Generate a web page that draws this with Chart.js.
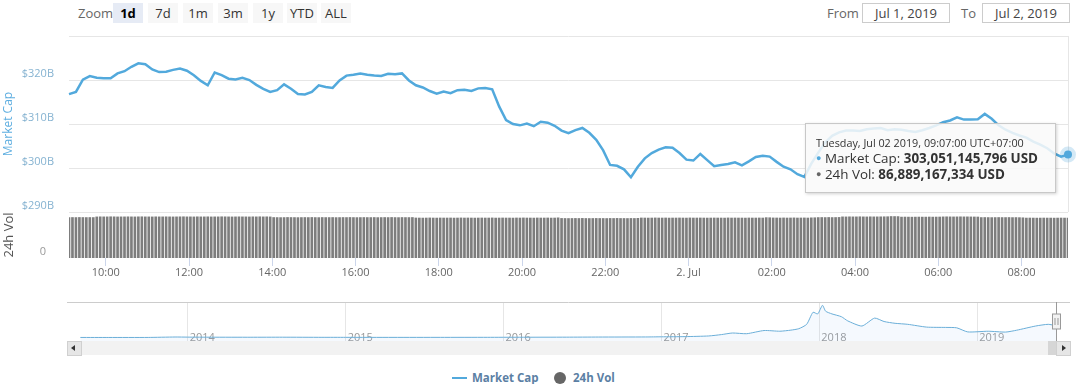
<!DOCTYPE html>
<html>
<head>
<meta charset="utf-8">
<script src="https://cdn.jsdelivr.net/npm/chart.js@4.4.1/dist/chart.umd.min.js"></script>
<style>
  body { margin: 0; background: #fff; font-family: "Open Sans", sans-serif; }
  #wrap { position: relative; width: 1080px; height: 384px; overflow: hidden; background: #fff; }
  #main { position: absolute; left: 0; top: 0; width: 1080px; height: 290px; }
  #nav { position: absolute; left: 0; top: 296px; width: 1080px; height: 60px; }
  .lbl { position: absolute; font-size: 13px; color: #666; line-height: 20px; top: 3px; }
  .btn { position: absolute; top: 3px; width: 30px; height: 20px; line-height: 20px; text-align: center;
         background: #f7f7f7; font-size: 13px; color: #333; }
  .btn.on { background: #e6ebf5; font-weight: bold; color: #000; }
  .inp { position: absolute; top: 3px; width: 86px; height: 18px; line-height: 18px; border: 1px solid #ccc;
         text-align: center; font-size: 13px; color: #444; }
  #tip { position: absolute; display: none; background: rgba(249,249,249,0.86); border: 1px solid #c8c8c8;
         box-shadow: 1px 1px 3px rgba(0,0,0,0.18); padding: 11px 10px 10px 10px; width: 229px;
         color: #333; white-space: nowrap; pointer-events: none; }
  #tip .d { font-size: 10.8px; line-height: 15px; }
  #tip .r { font-size: 13.4px; line-height: 15px; }
  #tip .b { font-size: 9px; vertical-align: 2px; }
  .sb { position: absolute; top: 341px; height: 14px; }
  .leg { position: absolute; top: 369px; font-size: 11.5px; font-weight: bold; color: #5b80a4; line-height: 18px; }
</style>
</head>
<body>
<div id="wrap">
  <div class="lbl" style="left:78px">Zoom</div>
  <div class="btn on" style="left:113px">1d</div>
  <div class="btn" style="left:148px">7d</div>
  <div class="btn" style="left:183px">1m</div>
  <div class="btn" style="left:218px">3m</div>
  <div class="btn" style="left:253px">1y</div>
  <div class="btn" style="left:287px">YTD</div>
  <div class="btn" style="left:321px">ALL</div>
  <div class="lbl" style="left:827px">From</div>
  <div class="inp" style="left:862px">Jul 1, 2019</div>
  <div class="lbl" style="left:961px">To</div>
  <div class="inp" style="left:982px">Jul 2, 2019</div>

  <div id="main"><canvas id="chart"></canvas></div>
  <div id="nav"><canvas id="navChart"></canvas></div>

  <div class="sb" style="left:67px;width:1003px;background:#f2f2f2"></div>
  <div class="sb" style="left:67px;width:13px;height:13px;background:#e6e6e6;border:1px solid #d0d0d0"></div>
  <div style="position:absolute;left:71px;top:345px;width:0;height:0;border-top:3px solid transparent;border-bottom:3px solid transparent;border-right:4px solid #333"></div>
  <div class="sb" style="left:1048px;width:8px;background:#d6d6d6"></div>
  <div class="sb" style="left:1056px;width:13px;height:13px;background:#e6e6e6;border:1px solid #d0d0d0"></div>
  <div style="position:absolute;left:1062px;top:345px;width:0;height:0;border-top:3px solid transparent;border-bottom:3px solid transparent;border-left:4px solid #333"></div>

  <div style="position:absolute;left:452px;top:377px;width:15px;height:2px;background:#52a9dc"></div>
  <div class="leg" style="left:472px">Market Cap</div>
  <div style="position:absolute;left:554px;top:372px;width:12px;height:12px;border-radius:6px;background:#666"></div>
  <div class="leg" style="left:573px">24h Vol</div>

  <div id="tip"></div>
</div>

<script>
// market cap, billions USD, one value every 10 minutes from Jul 1 2019 09:07 (UTC+7)
const mcapValues = [
  316.8, 317.3, 320.1, 320.9, 320.5, 320.4, 320.4, 321.5, 322.0, 323.0,
  323.8, 323.6, 322.4, 321.8, 321.9, 322.3, 322.6, 322.1, 321.1, 319.8,
  318.8, 321.7, 321.1, 320.3, 320.1, 320.5, 320.0, 318.9, 318.0, 317.3,
  317.7, 319.0, 318.0, 316.8, 316.7, 317.3, 318.8, 318.4, 318.2, 319.9,
  321.0, 321.2, 321.5, 321.2, 321.0, 320.9, 321.4, 321.3, 321.5, 319.9,
  318.8, 318.3, 317.5, 316.9, 317.4, 317.0, 317.7, 317.8, 317.5, 318.1,
  318.2, 317.9, 314.0, 310.9, 310.0, 309.7, 310.1, 309.5, 310.5, 310.3,
  309.6, 308.5, 307.9, 308.6, 309.1, 308.0, 306.4, 304.0, 300.7, 300.5,
  299.7, 297.9, 300.3, 302.2, 303.4, 304.2, 304.7, 304.6, 303.4, 301.9,
  301.7, 303.2, 301.8, 300.4, 300.7, 300.9, 301.3, 300.6, 301.5, 302.5,
  302.8, 302.6, 301.4, 300.3, 299.7, 298.6, 298.0, 301.0, 303.5, 305.8,
  307.3, 308.1, 308.5, 308.5, 308.4, 308.8, 309.0, 309.1, 308.6, 308.8,
  308.7, 308.4, 308.2, 308.6, 309.1, 309.7, 310.4, 310.8, 311.5, 311.0,
  311.0, 311.1, 312.3, 311.2, 309.7, 308.7, 308.0, 307.4, 306.9, 306.0,
  305.3, 304.5, 303.3, 302.6, 303.051145796
];
const mcapStep = 10;

// 24h volume, billions USD, one bar every 5 minutes
const volValues = [
  88.0, 88.1, 88.0, 88.2, 88.1, 88.0, 88.1, 88.0,
  89.4, 89.6, 89.5, 89.5, 89.7, 89.6, 89.4, 89.5, 89.5, 89.6,
  89.5, 89.4, 89.6, 89.7, 89.5, 89.5, 89.4, 89.6, 89.5, 89.5,
  89.6, 89.5, 89.4, 89.5, 89.6, 89.7, 89.5, 89.5, 89.4, 89.6,
  89.5, 89.5, 89.6, 89.4, 89.5, 89.5, 89.7, 89.6, 89.5, 89.4,
  89.5, 89.6, 89.5, 89.5, 89.4, 89.6, 89.5, 89.7, 89.5, 89.6, 89.4,
  88.1, 88.0, 87.9, 88.0, 88.2, 88.1, 88.0, 87.9, 88.0, 88.1,
  88.0, 88.2, 88.0, 87.9, 88.1, 88.0, 88.0, 88.1, 87.9, 88.0,
  88.1, 88.0, 88.2, 88.0, 87.9, 88.0, 88.1, 88.0, 88.0, 88.1,
  87.9, 88.0, 88.1, 88.0, 88.2, 88.0, 87.9, 88.1, 88.0, 88.0, 88.1,
  87.1, 87.0, 86.9, 87.0, 87.2, 87.0, 86.9, 87.1, 87.0, 87.0,
  87.1, 86.9, 87.0, 87.2, 87.0, 87.1, 87.0, 86.9, 87.0, 87.1,
  87.0, 87.0, 87.2, 86.9, 87.0, 87.1, 87.0, 87.0, 86.9, 87.1,
  87.0, 87.2, 87.0, 87.0, 86.9, 87.1, 87.0, 87.0, 87.1, 86.9, 87.0, 87.4,
  86.1, 86.0, 85.9, 86.0, 86.1, 86.0, 86.2, 86.0, 85.9, 86.0,
  86.1, 86.0, 86.0, 85.9, 86.1, 86.0, 86.2, 86.0, 86.0, 85.9, 86.1, 86.0, 86.3,
  87.1, 87.0, 86.9, 87.0, 87.2, 87.0, 87.0, 87.1, 86.9, 87.0,
  87.0, 87.1, 87.0, 86.9, 87.2, 87.0, 87.0, 87.1, 87.0, 86.9,
  87.0, 87.1, 87.0, 87.0, 86.9, 87.2, 87.0, 87.1, 87.0, 87.0,
  86.9, 87.1, 87.0, 87.0, 87.1, 87.0,
  87.8, 87.6, 87.2, 87.1, 87.0, 87.2, 87.0, 87.1, 87.3, 87.0, 87.1, 87.2, 87.0, 87.4, 87.6,
  88.0, 88.1, 88.0, 88.2, 88.0, 88.1, 88.3,
  89.5, 89.4, 89.6, 89.5, 89.5, 89.7, 89.5, 89.4, 89.6, 89.5, 89.5, 89.6, 89.7, 89.8,
  90.3, 90.2, 90.1,
  89.0, 89.1, 89.0, 88.9, 89.0, 89.1, 89.0, 89.0, 89.2, 89.0, 89.1, 89.2,
  89.5, 89.6, 89.5, 89.4, 89.5, 89.6, 89.5, 89.5, 89.4, 89.3, 89.2,
  88.0, 88.1, 88.0, 87.9, 88.0, 88.1, 88.0, 88.0, 88.1, 87.9, 88.0, 87.8, 87.5,
  86.9, 87.0, 86.9, 86.8, 86.9, 87.0, 86.9, 86.9, 86.8, 86.9, 87.0, 86.9, 86.889167334
];
const volStep = 5;

// x axis ticks, minutes after 09:07
const tickMinutes = [53, 173, 293, 413, 533, 653, 773, 893, 1013, 1133, 1253, 1373];
const tickLabels = ['10:00', '12:00', '14:00', '16:00', '18:00', '20:00', '22:00', '2. Jul', '02:00', '04:00', '06:00', '08:00'];
const capTicks = [290, 300, 310, 320, 330];

// navigator: total market cap since 2013 (billions)
const navYears = [2013.32, 2013.5, 2013.75, 2013.92, 2014.0, 2014.15, 2014.4, 2014.6, 2014.85, 2015.0,
  2015.3, 2015.6, 2015.9, 2016.1, 2016.4, 2016.6, 2016.9, 2017.0, 2017.15, 2017.3,
  2017.38, 2017.45, 2017.54, 2017.65, 2017.75, 2017.82, 2017.87, 2017.92, 2017.96, 2017.99,
  2018.02, 2018.04, 2018.08, 2018.14, 2018.18, 2018.27, 2018.35, 2018.41, 2018.48, 2018.56,
  2018.68, 2018.8, 2018.87, 2018.94, 2019.07, 2019.18, 2019.25, 2019.37, 2019.45, 2019.5];
const navCaps = [1.5, 1.2, 2, 13, 10, 8, 7, 8, 5, 4.5,
  3.5, 4, 5, 7, 9, 12, 14, 18, 23, 40,
  75, 116, 98, 180, 162, 190, 227, 340, 650, 608,
  830, 678, 608, 536, 428, 296, 500, 412, 366, 340,
  268, 260, 250, 144, 162, 140, 188, 296, 340, 303];
const navYearTicks = [2014, 2015, 2016, 2017, 2018, 2019];
const navSelection = 2019.497;

Chart.defaults.font.family = '"Open Sans", sans-serif';
Chart.defaults.animation = false;

const days = ['Sunday', 'Monday', 'Tuesday', 'Wednesday', 'Thursday', 'Friday', 'Saturday'];
const months = ['Jan', 'Feb', 'Mar', 'Apr', 'May', 'Jun', 'Jul', 'Aug', 'Sep', 'Oct', 'Nov', 'Dec'];
const start = Date.UTC(2019, 6, 1, 9, 7);
const pad = n => String(n).padStart(2, '0');

function fmtDate(min) {
  const d = new Date(start + min * 60000);
  return days[d.getUTCDay()] + ', ' + months[d.getUTCMonth()] + ' ' + pad(d.getUTCDate()) + ' ' + d.getUTCFullYear() +
    ', ' + pad(d.getUTCHours()) + ':' + pad(d.getUTCMinutes()) + ':00 UTC+07:00';
}
const fmtUsd = b => Math.round(b * 1e9).toLocaleString('en-US') + ' USD';

function externalTip(context) {
  const tip = document.getElementById('tip');
  const t = context.tooltip;
  if (t.opacity === 0 || !t.dataPoints || !t.dataPoints.length) { tip.style.display = 'none'; return; }
  const cap = t.dataPoints.find(p => p.datasetIndex === 0);
  const vol = t.dataPoints.find(p => p.datasetIndex === 1);
  tip.innerHTML =
    '<div class="d">' + fmtDate(cap.parsed.x) + '</div>' +
    '<div class="r"><span class="b" style="color:#52a9dc">\u25CF</span> Market Cap: <b>' + fmtUsd(cap.parsed.y) + '</b></div>' +
    '<div class="r"><span class="b" style="color:#666">\u25CF</span> 24h Vol: <b>' + fmtUsd(vol.parsed.y) + '</b></div>';
  tip.style.display = 'block';
  tip.style.left = (cap.element.x - 263) + 'px';
  tip.style.top = (cap.element.y - 32) + 'px';
}

const rightEdge = {
  id: 'rightEdge',
  beforeDatasetsDraw(chart) {
    const {ctx, chartArea} = chart;
    const y = chart.scales.y;
    const x = Math.round(chartArea.right) + 0.5;
    ctx.save();
    ctx.strokeStyle = '#e6e6e6';
    ctx.lineWidth = 1;
    ctx.beginPath();
    ctx.moveTo(x, y.top);
    ctx.lineTo(x, y.bottom);
    ctx.stroke();
    ctx.restore();
  }
};

const chart = new Chart('chart', {
  type: 'line',
  data: {
    datasets: [{
      label: 'Market Cap',
      data: mcapValues.map((v, i) => ({x: i * mcapStep, y: v})),
      yAxisID: 'y',
      borderColor: '#52a9dc',
      borderWidth: 2.5,
      pointRadius: 0,
      pointHoverRadius: 4,
      pointHoverBackgroundColor: '#52a9dc',
      pointHoverBorderColor: 'rgba(82,169,220,0.25)',
      pointHoverBorderWidth: 8,
      tension: 0,
      clip: false,
      order: 0
    }, {
      type: 'bar',
      label: '24h Vol',
      data: volValues.map((v, i) => ({x: i * volStep, y: v})),
      yAxisID: 'yVol',
      backgroundColor: '#7d7d7d',
      hoverBackgroundColor: '#7d7d7d',
      barThickness: 2,
      order: 1
    }]
  },
  options: {
    responsive: true,
    maintainAspectRatio: false,
    layout: {padding: {top: 36, right: 12, left: 0, bottom: 0}},
    interaction: {mode: 'index', intersect: false},
    plugins: {
      legend: {display: false},
      tooltip: {enabled: false, external: externalTip}
    },
    scales: {
      x: {
        type: 'linear',
        offset: false,
        min: 0,
        max: 1440,
        afterBuildTicks: s => { s.ticks = tickMinutes.map(v => ({value: v})); },
        afterFit: s => { s.height = 32; },
        ticks: {
          autoSkip: false, maxRotation: 0, padding: 0, color: '#666', font: {size: 11},
          callback: (v, i) => tickLabels[i]
        },
        grid: {offset: false, drawOnChartArea: false, drawTicks: true, tickLength: 8, color: '#ccd6eb'},
        border: {display: false}
      },
      y: {
        position: 'left',
        stack: 'panels',
        stackWeight: 3.83,
        weight: 2,
        min: 290,
        max: 330,
        afterBuildTicks: s => { s.ticks = capTicks.map(v => ({value: v})); },
        afterFit: s => { s.width = 69; },
        ticks: {
          padding: 15, labelOffset: -6, color: '#86b3d1', font: {size: 11},
          callback: v => v === 330 ? '' : '$' + v + 'B'
        },
        grid: {color: '#e6e6e6', drawTicks: false},
        border: {display: false},
        title: {display: true, text: 'Market Cap', color: '#5eaee0', font: {size: 12}, padding: {top: 1, bottom: 0}}
      },
      yVol: {
        position: 'left',
        stack: 'panels',
        stackWeight: 1,
        weight: 1,
        min: 0,
        max: 100,
        afterBuildTicks: s => { s.ticks = [{value: 0}]; },
        afterFit: s => { s.width = 69; },
        ticks: {padding: 15, labelOffset: -6, color: '#999', font: {size: 11}},
        grid: {display: false},
        border: {display: false},
        title: {display: true, text: '24h Vol', color: '#555', font: {size: 13}, padding: {top: 1, bottom: 0}}
      }
    }
  },
  plugins: [rightEdge]
});

const active = [
  {datasetIndex: 0, index: mcapValues.length - 1},
  {datasetIndex: 1, index: volValues.length - 1}
];
const lastPt = chart.getDatasetMeta(0).data[mcapValues.length - 1];
chart.setActiveElements(active);
chart.tooltip.setActiveElements(active, {x: lastPt.x, y: lastPt.y});
chart.update();

const navDecor = {
  id: 'navDecor',
  afterDraw(chart) {
    const {ctx, chartArea} = chart;
    const xs = Math.round(chart.scales.x.getPixelForValue(navSelection)) + 0.5;
    ctx.save();
    ctx.strokeStyle = '#cccccc';
    ctx.lineWidth = 1;
    ctx.beginPath();
    ctx.moveTo(67, Math.round(chartArea.top) + 0.5);
    ctx.lineTo(1070, Math.round(chartArea.top) + 0.5);
    ctx.stroke();
    ctx.strokeStyle = '#999';
    ctx.beginPath();
    ctx.moveTo(xs, chartArea.top);
    ctx.lineTo(xs, chartArea.bottom);
    ctx.stroke();
    ctx.fillStyle = '#f2f2f2';
    ctx.fillRect(xs - 4, chartArea.top + 12, 8, 15);
    ctx.strokeRect(xs - 4, chartArea.top + 12, 8, 15);
    ctx.beginPath();
    ctx.moveTo(xs - 1.5, chartArea.top + 16); ctx.lineTo(xs - 1.5, chartArea.top + 23);
    ctx.moveTo(xs + 1.5, chartArea.top + 16); ctx.lineTo(xs + 1.5, chartArea.top + 23);
    ctx.stroke();
    ctx.restore();
  }
};

new Chart('navChart', {
  type: 'line',
  data: {
    datasets: [{
      data: navYears.map((y, i) => ({x: y, y: navCaps[i]})),
      borderColor: '#6aaed8',
      borderWidth: 1,
      backgroundColor: 'rgba(124,181,236,0.08)',
      fill: 'start',
      pointRadius: 0,
      tension: 0.2
    }]
  },
  options: {
    responsive: true,
    maintainAspectRatio: false,
    layout: {padding: {top: 6, right: 12, left: 69, bottom: 0}},
    events: [],
    plugins: {legend: {display: false}, tooltip: {enabled: false}},
    scales: {
      x: {
        type: 'linear',
        min: 2013.248,
        max: 2019.575,
        afterBuildTicks: s => { s.ticks = navYearTicks.map(v => ({value: v})); },
        afterFit: s => { s.height = 15; },
        ticks: {autoSkip: false, maxRotation: 0, align: 'start', labelOffset: 2, mirror: true, padding: -3,
                color: '#999', font: {size: 11}, callback: v => String(v)},
        grid: {color: '#e6e6e6', drawTicks: false},
        border: {display: false}
      },
      y: {display: false, min: -90, max: 915}
    }
  },
  plugins: [navDecor]
});
</script>
</body>
</html>
